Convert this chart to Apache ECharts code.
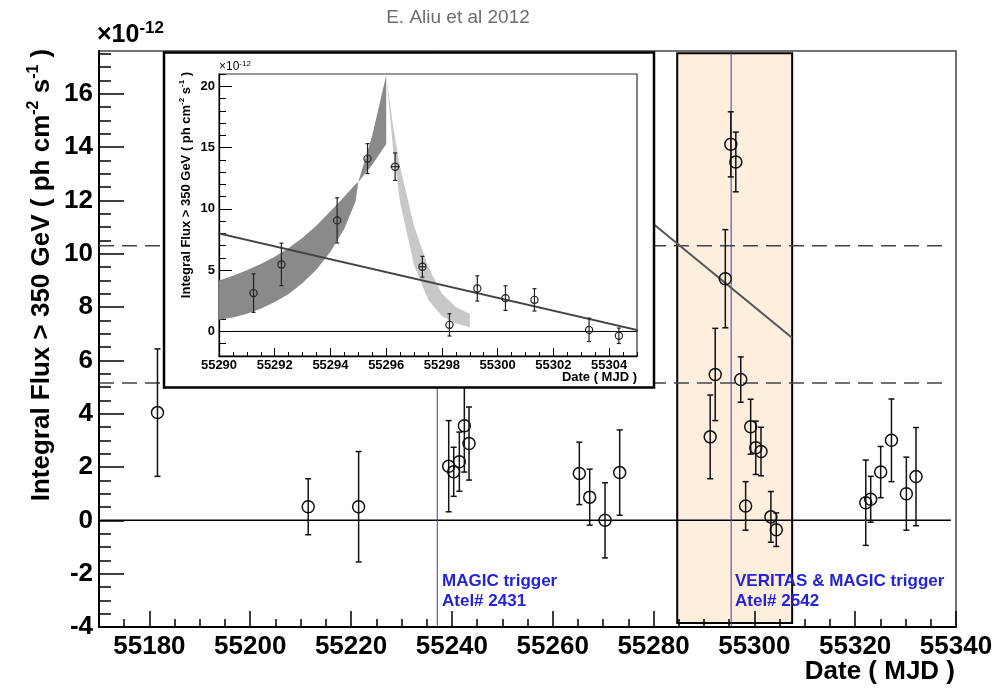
<!DOCTYPE html>
<html>
<head>
<meta charset="utf-8">
<script src="https://cdn.jsdelivr.net/npm/echarts@6/dist/echarts.min.js"></script>
<style>
  html, body { margin: 0; padding: 0; background: #ffffff; }
  #chart { width: 1004px; height: 688px; }
</style>
</head>
<body>
<div id="chart"></div>
<script>
// Integral flux above 350 GeV, in units of 1e-12 ph cm^-2 s^-1, versus date (MJD)

// Observations outside the April 2010 flare
const mjd     = [55181.6, 55211.5, 55221.5, 55239.37, 55240.36, 55241.48, 55242.47, 55243.40,
                 55265.28, 55267.34, 55270.38, 55273.29,
                 55322.10, 55323.08, 55325.06, 55327.20, 55330.15, 55332.07];
const flux    = [4.04, 0.51, 0.51, 2.03, 1.82, 2.20, 3.55, 2.88,
                 1.76, 0.87, 0.00, 1.79,
                 0.66, 0.79, 1.81, 3.00, 1.00, 1.64];
const fluxErr = [2.39, 1.05, 2.07, 1.71, 0.92, 1.11, 1.74, 1.37,
                 1.17, 1.05, 1.41, 1.60,
                 1.60, 0.86, 0.96, 1.55, 1.37, 1.84];

// Flare nights (shown in both panels)
const flareMjd    = [55291.24, 55292.24, 55294.24, 55295.33, 55296.32, 55297.30,
                     55298.27, 55299.27, 55300.28, 55301.32, 55303.28, 55304.35];
const flareFlux   = [3.13, 5.47, 9.06, 14.10, 13.44, 5.28, 0.54, 3.51, 2.72, 2.58, 0.13, -0.35];
const flareErr    = [1.57, 1.73, 1.84, 1.22, 1.12, 0.85, 0.91, 1.03, 1.00, 0.91, 0.95, 0.63];
const flareMjdErr = [0, 0, 0, 0, 0.17, 0.12, 0, 0, 0, 0, 0, 0];

// Exponential rise envelope
const riseMjd   = [55290.0, 55290.5, 55291.0, 55291.5, 55292.0, 55292.5, 55293.0, 55293.5,
                   55294.0, 55294.5, 55294.9, 55295.0, 55295.5, 55296.0];
const riseLower = [0.95, 1.15, 1.45, 1.85, 2.40, 3.05, 3.95, 5.05, 6.50, 8.40, 10.6, 12.2, 13.6, 15.3];
const riseUpper = [4.16, 4.55, 5.00, 5.50, 6.10, 6.80, 7.65, 8.65, 9.80, 11.0, 12.0, 12.2, 16.0, 20.9];

// Exponential decay envelope
const decayMjd   = [55296.0, 55296.25, 55296.5, 55297.0, 55297.5, 55298.0, 55298.5, 55299.0];
const decayUpper = [20.9, 16.7, 13.4, 8.6, 5.3, 3.1, 2.0, 1.45];
const decayLower = [20.9, 14.8, 10.5, 5.4, 2.6, 1.25, 0.65, 0.35];

// Linear fit to the flare nights
const flareFit  = [[55288.07, 9.00], [55306.48, -0.66]];
const mainGuide = [[55280.1, 11.09], [55307.47, 6.85]];

// Reference levels and triggers
const crabLevels   = [10.30, 5.15];
const triggerMjd   = [55237.1, 55295.4];
const flareWindow  = [55284.7, 55307.5];
const flareWindowY = [-3.85, 17.52];

// Axis ticks
const mainXMajor  = [55180, 55200, 55220, 55240, 55260, 55280, 55300, 55320, 55340];
const mainYMajor  = [-4, -2, 0, 2, 4, 6, 8, 10, 12, 14, 16];
const insetXMajor = [55290, 55292, 55294, 55296, 55298, 55300, 55302, 55304];
const insetYMajor = [0, 5, 10, 15, 20];

function steps(from, to, step) {
  const out = [];
  for (let v = from; v <= to + 1e-9; v += step) out.push(Math.round(v * 1000) / 1000);
  return out;
}
const mainXMinor  = steps(55170, 55340, 5);
const mainYMinor  = steps(-4, 17.5, 0.5);
const insetXMinor = steps(55290, 55305, 0.5);
const insetYMinor = steps(-2, 21, 1);

const FONT = '"Liberation Sans", Arial, Helvetica, sans-serif';

function errorBars(opt) {
  return function (params, api) {
    const x = api.value(0), y = api.value(1), e = api.value(2), ex = api.value(3) || 0;
    const c = api.coord([x, y]);
    const t = api.coord([x, y + e]);
    const b = api.coord([x, y - e]);
    const st = { stroke: opt.color, lineWidth: opt.lw, fill: null };
    const kids = [
      { type: 'line', shape: { x1: c[0], y1: t[1], x2: c[0], y2: b[1] }, style: st },
      { type: 'line', shape: { x1: c[0] - opt.cap, y1: t[1], x2: c[0] + opt.cap, y2: t[1] }, style: st },
      { type: 'line', shape: { x1: c[0] - opt.cap, y1: b[1], x2: c[0] + opt.cap, y2: b[1] }, style: st },
      { type: 'circle', shape: { cx: c[0], cy: c[1], r: opt.r },
        style: { stroke: opt.color, lineWidth: opt.lw, fill: 'rgba(0,0,0,0)' } }
    ];
    if (ex > 0) {
      const l = api.coord([x - ex, y]), r = api.coord([x + ex, y]);
      kids.push({ type: 'line', shape: { x1: l[0], y1: c[1], x2: r[0], y2: c[1] }, style: st });
    }
    return { type: 'group', children: kids };
  };
}

function band(mjds, lower, upper, color) {
  return function (params, api) {
    if (params.dataIndex !== 0) return null;
    const pts = [];
    for (let i = 0; i < mjds.length; i++) pts.push(api.coord([mjds[i], upper[i]]));
    for (let i = mjds.length - 1; i >= 0; i--) pts.push(api.coord([mjds[i], lower[i]]));
    return { type: 'polygon', shape: { points: pts }, style: { fill: color, stroke: null } };
  };
}

const mainPoints  = mjd.map((t, i) => [t, flux[i], fluxErr[i], 0])
  .concat(flareMjd.map((t, i) => [t, flareFlux[i], flareErr[i], 0]));
const insetPoints = flareMjd.map((t, i) => [t, flareFlux[i], flareErr[i], flareMjdErr[i]]);

const tickLabel = { fontFamily: FONT, fontWeight: 'bold', color: '#000' };

const GRID_MAIN  = { left: 99, top: 51, width: 857, height: 576 };
const GRID_INSET = { left: 219, top: 74, width: 418, height: 282 };

const YTITLE = '{n|Integral Flux > 350 GeV ( ph cm}{s|-2}{n| s}{s|-1}{n| )}';

const option = {
  backgroundColor: '#ffffff',
  animation: false,
  textStyle: { fontFamily: FONT },
  grid: [
    Object.assign({ show: true, borderColor: '#444', borderWidth: 1.5, z: 0 }, GRID_MAIN),
    Object.assign({ show: false, z: 0 }, GRID_MAIN),
    Object.assign({ show: true, borderColor: '#333', borderWidth: 1.2, backgroundColor: '#fff', z: 60 }, GRID_INSET),
    Object.assign({ show: false, z: 60 }, GRID_INSET)
  ],
  xAxis: [
    { type: 'value', gridIndex: 0, min: 55170, max: 55340, z: 1,
      axisLine: { show: true, onZero: false, lineStyle: { color: '#000', width: 2 } },
      axisTick: { show: true, inside: true, length: 16, customValues: mainXMajor, lineStyle: { color: '#000', width: 1.5 } },
      axisLabel: { show: true, customValues: mainXMajor, margin: 7, fontSize: 26, formatter: v => String(v), ...tickLabel },
      splitLine: { show: false } },
    { type: 'value', gridIndex: 1, min: 55170, max: 55340, z: 1,
      axisLine: { show: false, onZero: false },
      axisTick: { show: true, inside: true, length: 8, customValues: mainXMinor, lineStyle: { color: '#000', width: 1.5 } },
      axisLabel: { show: false }, splitLine: { show: false } },
    { type: 'value', gridIndex: 2, min: 55290, max: 55305, z: 61,
      axisLine: { show: true, onZero: false, lineStyle: { color: '#000', width: 1.3 } },
      axisTick: { show: true, inside: true, length: 8, customValues: insetXMajor, lineStyle: { color: '#000', width: 1 } },
      axisLabel: { show: true, customValues: insetXMajor, margin: 3, fontSize: 13, formatter: v => String(v), ...tickLabel },
      splitLine: { show: false } },
    { type: 'value', gridIndex: 3, min: 55290, max: 55305, z: 61,
      axisLine: { show: false, onZero: false },
      axisTick: { show: true, inside: true, length: 4, customValues: insetXMinor, lineStyle: { color: '#000', width: 1 } },
      axisLabel: { show: false }, splitLine: { show: false } }
  ],
  yAxis: [
    { type: 'value', gridIndex: 0, min: -4, max: 17.6, z: 1,
      axisLine: { show: true, onZero: false, lineStyle: { color: '#000', width: 2 } },
      axisTick: { show: true, inside: true, length: 25, customValues: mainYMajor, lineStyle: { color: '#000', width: 1.5 } },
      axisLabel: { show: true, customValues: mainYMajor, margin: 6, fontSize: 26, formatter: v => String(v), ...tickLabel },
      splitLine: { show: false } },
    { type: 'value', gridIndex: 1, min: -4, max: 17.6, z: 1,
      axisLine: { show: false, onZero: false },
      axisTick: { show: true, inside: true, length: 12, customValues: mainYMinor, lineStyle: { color: '#000', width: 1.5 } },
      axisLabel: { show: false }, splitLine: { show: false } },
    { type: 'value', gridIndex: 2, min: -2, max: 21, z: 61,
      axisLine: { show: true, onZero: false, lineStyle: { color: '#000', width: 1.3 } },
      axisTick: { show: true, inside: true, length: 13, customValues: insetYMajor, lineStyle: { color: '#000', width: 1 } },
      axisLabel: { show: true, customValues: insetYMajor, margin: 4, fontSize: 13, formatter: v => String(v), ...tickLabel },
      splitLine: { show: false } },
    { type: 'value', gridIndex: 3, min: -2, max: 21, z: 61,
      axisLine: { show: false, onZero: false },
      axisTick: { show: true, inside: true, length: 7, customValues: insetYMinor, lineStyle: { color: '#000', width: 1 } },
      axisLabel: { show: false }, splitLine: { show: false } }
  ],
  series: [
    // flare window highlight
    { type: 'custom', xAxisIndex: 0, yAxisIndex: 0, z: 1, silent: true,
      data: [[flareWindow[0], flareWindowY[0], flareWindow[1], flareWindowY[1]]],
      encode: { x: [0, 2], y: [1, 3] },
      renderItem: function (params, api) {
        const a = api.coord([api.value(0), api.value(3)]);
        const b = api.coord([api.value(2), api.value(1)]);
        return { type: 'rect', shape: { x: a[0], y: a[1], width: b[0] - a[0], height: b[1] - a[1] },
                 style: { fill: '#fdeede', stroke: '#000', lineWidth: 2 } };
      } },
    // flux reference levels
    ...crabLevels.map(v => ({
      type: 'line', xAxisIndex: 0, yAxisIndex: 0, z: 2, silent: true, symbol: 'none',
      data: [[55170, v], [55338, v]],
      lineStyle: { color: '#444', width: 1.5, type: [15, 8] }
    })),
    // zero level
    { type: 'line', xAxisIndex: 0, yAxisIndex: 0, z: 2, silent: true, symbol: 'none',
      data: [[55170, 0], [55339, 0]], lineStyle: { color: '#000', width: 1.5 } },
    // trigger markers
    ...triggerMjd.map(t => ({
      type: 'line', xAxisIndex: 0, yAxisIndex: 0, z: 3, silent: true, symbol: 'none',
      data: [[t, -4], [t, 17.6]], lineStyle: { color: '#3c3cb4', width: 1 }
    })),
    { type: 'line', xAxisIndex: 0, yAxisIndex: 0, z: 3, silent: true, symbol: 'none',
      data: mainGuide, lineStyle: { color: '#555', width: 2 } },
    // light curve
    { type: 'custom', xAxisIndex: 0, yAxisIndex: 0, z: 4, silent: true,
      data: mainPoints, encode: { x: 0, y: 1 },
      renderItem: errorBars({ color: '#111', lw: 1.5, cap: 3, r: 6 }) },

    // inset: rise / decay envelopes
    { type: 'custom', xAxisIndex: 2, yAxisIndex: 2, z: 62, silent: true,
      data: riseMjd.map((t, i) => [t, riseLower[i], riseUpper[i]]), encode: { x: 0, y: [1, 2] },
      renderItem: band(riseMjd, riseLower, riseUpper, '#8a8a8a') },
    { type: 'custom', xAxisIndex: 2, yAxisIndex: 2, z: 62, silent: true,
      data: decayMjd.map((t, i) => [t, decayLower[i], decayUpper[i]]), encode: { x: 0, y: [1, 2] },
      renderItem: band(decayMjd, decayLower, decayUpper, '#c8c8c8') },
    { type: 'line', xAxisIndex: 2, yAxisIndex: 2, z: 63, silent: true, symbol: 'none',
      data: [[55290, 0], [55305, 0]], lineStyle: { color: '#000', width: 1 } },
    { type: 'line', xAxisIndex: 2, yAxisIndex: 2, z: 64, silent: true, symbol: 'none', clip: false,
      data: flareFit, lineStyle: { color: '#444', width: 2 } },
    { type: 'custom', xAxisIndex: 2, yAxisIndex: 2, z: 65, silent: true,
      data: insetPoints, encode: { x: 0, y: 1 },
      renderItem: errorBars({ color: '#222', lw: 1.2, cap: 2, r: 3.6 }) }
  ],
  graphic: [
    { type: 'rect', z: 50, silent: true,
      shape: { x: 164, y: 52.5, width: 490, height: 335 },
      style: { fill: '#fff', stroke: '#000', lineWidth: 2.5 } },
    { type: 'text', z: 10, silent: true, x: 458, y: 18,
      style: { text: 'E. Aliu et al 2012', font: '19px ' + FONT, fill: '#6e6e6e',
               textAlign: 'center', textVerticalAlign: 'middle' } },
    { type: 'text', z: 10, silent: true, x: 42, y: 275, rotation: Math.PI / 2,
      style: { text: YTITLE, fill: '#000', textAlign: 'center', textVerticalAlign: 'middle',
        rich: { n: { fontFamily: FONT, fontWeight: 'bold', fontSize: 26, lineHeight: 32 },
                s: { fontFamily: FONT, fontWeight: 'bold', fontSize: 16, lineHeight: 16, verticalAlign: 'top' } } } },
    { type: 'text', z: 70, silent: true, x: 186, y: 185, rotation: Math.PI / 2,
      style: { text: YTITLE, fill: '#000', textAlign: 'center', textVerticalAlign: 'middle',
        rich: { n: { fontFamily: FONT, fontWeight: 'bold', fontSize: 13, lineHeight: 16 },
                s: { fontFamily: FONT, fontWeight: 'bold', fontSize: 8, lineHeight: 8, verticalAlign: 'top' } } } },
    { type: 'text', z: 10, silent: true, x: 97, y: 20,
      style: { text: '{a|×10}{s|-12}', fill: '#000',
        rich: { a: { fontFamily: FONT, fontWeight: 'bold', fontSize: 25, lineHeight: 30 },
                s: { fontFamily: FONT, fontWeight: 'bold', fontSize: 17, lineHeight: 16, verticalAlign: 'top' } } } },
    { type: 'text', z: 70, silent: true, x: 219, y: 60,
      style: { text: '{a|×10}{s|-12}', fill: '#000',
        rich: { a: { fontFamily: FONT, fontSize: 12, lineHeight: 14 },
                s: { fontFamily: FONT, fontSize: 8, lineHeight: 8, verticalAlign: 'top' } } } },
    { type: 'text', z: 10, silent: true, x: 955, y: 672,
      style: { text: 'Date ( MJD )', font: 'bold 26px ' + FONT, fill: '#000', textAlign: 'right', textVerticalAlign: 'middle' } },
    { type: 'text', z: 70, silent: true, x: 637, y: 377,
      style: { text: 'Date ( MJD )', font: 'bold 13px ' + FONT, fill: '#000', textAlign: 'right', textVerticalAlign: 'middle' } },
    { type: 'text', z: 10, silent: true, x: 442, y: 571,
      style: { text: 'MAGIC trigger\nAtel# 2431', font: 'bold 17px ' + FONT, fill: '#2323d8', lineHeight: 20 } },
    { type: 'text', z: 10, silent: true, x: 735, y: 571,
      style: { text: 'VERITAS & MAGIC trigger\nAtel# 2542', font: 'bold 17px ' + FONT, fill: '#2323d8', lineHeight: 20 } }
  ]
};

const chart = echarts.init(document.getElementById('chart'), null, { renderer: 'canvas' });
chart.setOption(option);
</script>
</body>
</html>
